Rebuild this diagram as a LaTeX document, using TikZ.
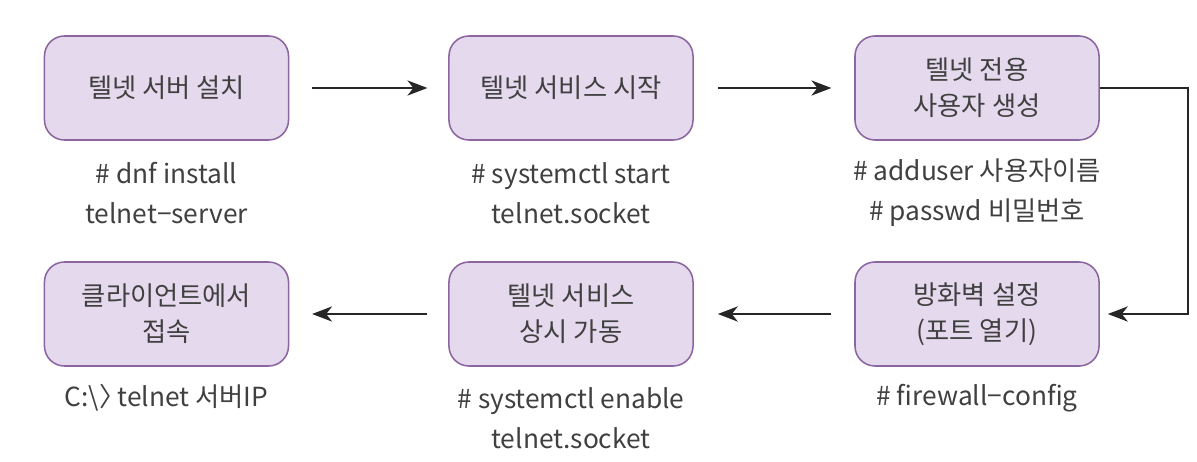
\documentclass[tikz,border=0pt]{standalone}
\usepackage{fontspec}
\setmainfont{Noto Sans CJK KR}
\usepackage{tikz}
\usetikzlibrary{arrows.meta,calc}
\definecolor{boxfill}{RGB}{229,217,237}
\definecolor{boxline}{RGB}{140,102,160}
\definecolor{txtgray}{RGB}{64,64,64}
\tikzset{
	stepbox/.style={draw=boxline, fill=boxfill, line width=1.1pt, rounded corners=0.5cm,
		minimum width=6.1cm, minimum height=2.6cm, align=center, text=txtgray,
		font=\fontsize{18.7}{25.5}\selectfont},
	cmdtext/.style={align=center, text=txtgray, font=\fontsize{18.7}{28.5}\selectfont},
	flow/.style={line width=1.2pt, black!85, -{Stealth[length=0.5cm, width=0.38cm, inset=0.15cm]}}
}

\begin{document}
\begin{tikzpicture}[x=0.025cm, y=-0.025cm]
			%%%%% START %%%%%
			
			\useasboundingbox (0, 0) rectangle (1197, 461);
			
			\node[stepbox] (install) at (166.5, 88) {텔넷 서버 설치};
			\node[stepbox] (start) at (571, 88) {텔넷 서비스 시작};
			\node[stepbox] (user) at (977, 88) {텔넷 전용\\사용자 생성};
			
			\node[stepbox] (firewall) at (977, 314) {방화벽 설정\\(포트 열기)};
			\node[stepbox] (enable) at (571, 314) {텔넷 서비스\\상시 가동};
			\node[stepbox] (client) at (166.5, 314) {클라이언트에서\\접속};
			
			\node[cmdtext] (installcmd) at (166.5, 193) {\# dnf install\\telnet−server};
			\node[cmdtext] (startcmd) at (571, 193) {\# systemctl start\\telnet.socket};
			\node[cmdtext] (usercmd) at (977, 193) {\# adduser 사용자이름\\\# passwd 비밀번호};
			
			\node[cmdtext] (firewallcmd) at (977, 398) {\# firewall−config};
			\node[cmdtext] (enablecmd) at (571, 418) {\# systemctl enable\\telnet.socket};
			\node[cmdtext] (clientcmd) at (166.5, 398) {C:\textbackslash〉\hspace{-0.3em}telnet 서버IP};
			
			\draw[flow, shorten <=0.57cm, shorten >=0.52cm] (install) -- (start);
			\draw[flow, shorten <=0.6cm, shorten >=0.57cm] (start) -- (user);
			\draw[flow, shorten >=0.2cm] (user.east) -- ++(88, 0) |- (firewall.east);
			\draw[flow, shorten <=0.57cm, shorten >=0.6cm] (firewall) -- (enable);
			\draw[flow, shorten <=0.52cm, shorten >=0.57cm] (enable) -- (client);
			
			%%%%% END %%%%%
\end{tikzpicture}
\end{document}
